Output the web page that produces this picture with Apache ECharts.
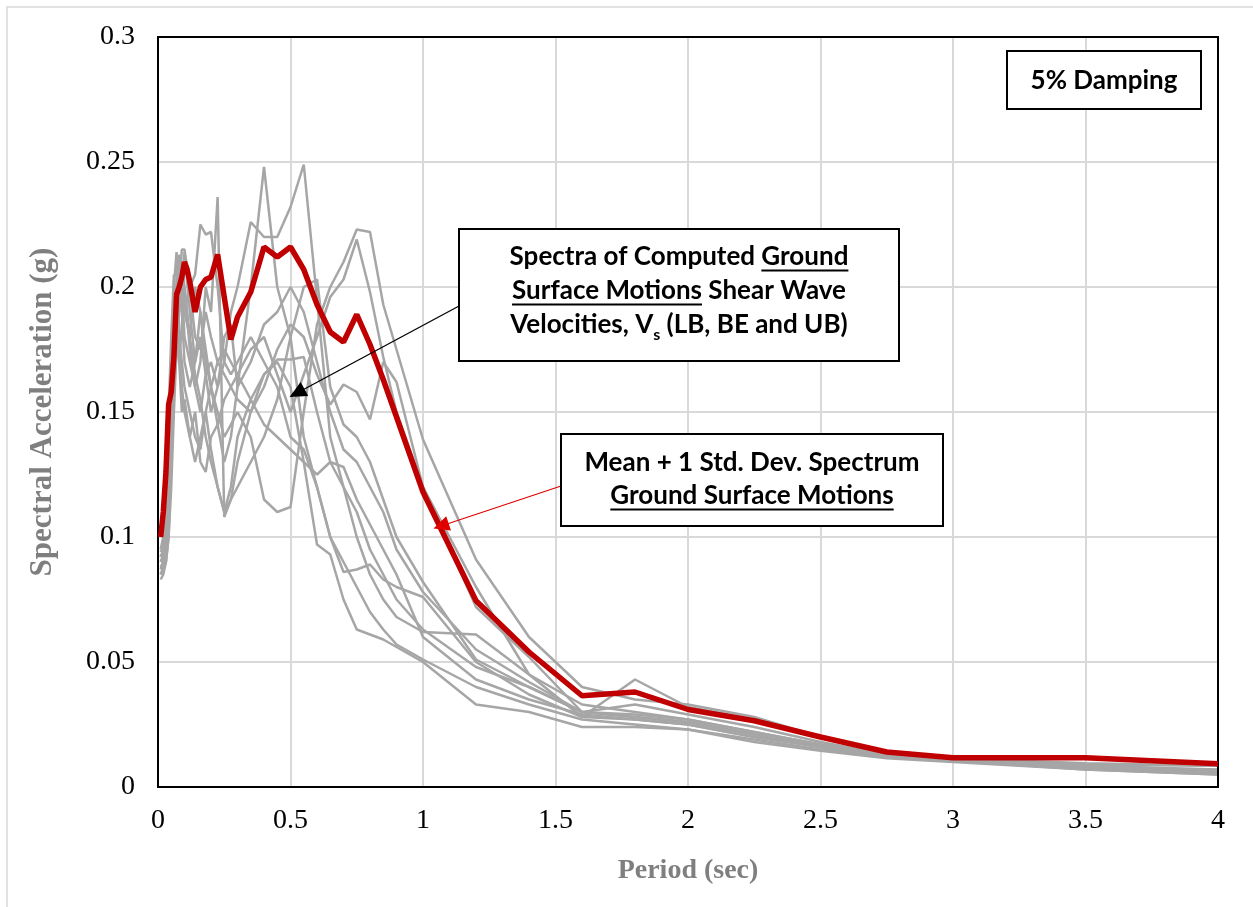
<!DOCTYPE html>
<html>
<head>
<meta charset="utf-8">
<script src="https://cdn.jsdelivr.net/npm/echarts@6/dist/echarts.min.js"></script>
<style>
  html, body { margin: 0; padding: 0; background: #fff; }
  #chart { width: 1253px; height: 907px; }
</style>
</head>
<body>
<div id="chart"></div>
<script>
// mean + 1 std. dev. spectrum (red)
const redPeriods = [0.01, 0.02, 0.03, 0.04, 0.05, 0.06, 0.07, 0.08, 0.09, 0.1, 0.11, 0.12, 0.14, 0.16, 0.18, 0.2, 0.225, 0.275, 0.3,
  0.35, 0.4, 0.45, 0.5, 0.55, 0.6, 0.65, 0.7, 0.75, 0.8, 0.85, 0.9, 1.0, 1.2, 1.4, 1.6, 1.8, 2.0, 2.25, 2.5, 2.75, 3.0, 3.5, 4.0]
const redValues = [0.100, 0.110, 0.126, 0.153, 0.158, 0.172, 0.197, 0.200, 0.204, 0.210, 0.207, 0.202, 0.190, 0.200, 0.203, 0.204, 0.213, 0.179, 0.188,
  0.198, 0.216, 0.212, 0.216, 0.207, 0.193, 0.182, 0.178, 0.189, 0.177, 0.163, 0.148, 0.118, 0.0745, 0.054, 0.0365, 0.038, 0.031, 0.0265, 0.020, 0.014, 0.0117, 0.0117, 0.0093]

// computed ground surface spectra (gray)
const grayPeriods = [0.01, 0.02, 0.03, 0.04, 0.05, 0.06, 0.07, 0.08, 0.09, 0.1, 0.12, 0.14, 0.16, 0.18, 0.2, 0.225, 0.25, 0.275, 0.3,
  0.35, 0.4, 0.45, 0.5, 0.55, 0.6, 0.65, 0.7, 0.75, 0.8, 0.85, 0.9, 1.0, 1.2, 1.4, 1.6, 1.8, 2.0, 2.25, 2.5, 2.75, 3.0, 3.5, 4.0]
const g1 = [0.092, 0.095, 0.110, 0.140, 0.160, 0.190, 0.200, 0.170, 0.185, 0.200, 0.175, 0.160, 0.150, 0.165, 0.170, 0.160, 0.180, 0.185, 0.160,
  0.200, 0.248, 0.200, 0.180, 0.140, 0.120, 0.100, 0.086, 0.087, 0.089, 0.083, 0.080, 0.076, 0.050, 0.037, 0.028, 0.027, 0.025, 0.020, 0.016, 0.013, 0.011, 0.008, 0.006]
const g2 = [0.088, 0.090, 0.100, 0.120, 0.150, 0.175, 0.200, 0.213, 0.190, 0.170, 0.160, 0.170, 0.180, 0.165, 0.150, 0.160, 0.170, 0.190, 0.200,
  0.226, 0.220, 0.220, 0.232, 0.249, 0.195, 0.140, 0.120, 0.100, 0.085, 0.075, 0.068, 0.062, 0.061, 0.045, 0.033, 0.030, 0.027, 0.022, 0.017, 0.013, 0.011, 0.0085, 0.0065]
const g3 = [0.085, 0.088, 0.095, 0.110, 0.140, 0.160, 0.180, 0.200, 0.210, 0.200, 0.180, 0.200, 0.190, 0.170, 0.160, 0.150, 0.140, 0.145, 0.150,
  0.140, 0.115, 0.110, 0.112, 0.150, 0.185, 0.200, 0.210, 0.223, 0.222, 0.193, 0.175, 0.139, 0.091, 0.060, 0.040, 0.035, 0.033, 0.028, 0.020, 0.014, 0.011, 0.009, 0.0085]
const g4 = [0.090, 0.092, 0.105, 0.130, 0.160, 0.200, 0.214, 0.180, 0.170, 0.160, 0.150, 0.140, 0.135, 0.150, 0.160, 0.170, 0.175, 0.170, 0.165,
  0.175, 0.180, 0.165, 0.150, 0.165, 0.180, 0.196, 0.203, 0.219, 0.198, 0.172, 0.150, 0.120, 0.080, 0.045, 0.028, 0.043, 0.032, 0.027, 0.020, 0.014, 0.0115, 0.0095, 0.0085]
const g5 = [0.095, 0.100, 0.120, 0.150, 0.180, 0.205, 0.190, 0.200, 0.215, 0.215, 0.200, 0.180, 0.175, 0.190, 0.180, 0.170, 0.165, 0.160, 0.155,
  0.150, 0.160, 0.175, 0.185, 0.180, 0.165, 0.153, 0.161, 0.158, 0.147, 0.170, 0.162, 0.120, 0.072, 0.052, 0.030, 0.033, 0.029, 0.024, 0.018, 0.013, 0.011, 0.0085, 0.007]
const g6 = [0.085, 0.087, 0.090, 0.100, 0.120, 0.150, 0.175, 0.190, 0.200, 0.180, 0.170, 0.160, 0.170, 0.200, 0.190, 0.236, 0.108, 0.115, 0.130,
  0.150, 0.165, 0.171, 0.171, 0.172, 0.150, 0.130, 0.120, 0.110, 0.095, 0.085, 0.075, 0.063, 0.048, 0.040, 0.030, 0.028, 0.026, 0.021, 0.016, 0.0125, 0.0105, 0.008, 0.006]
const g7 = [0.090, 0.093, 0.100, 0.125, 0.150, 0.170, 0.190, 0.200, 0.195, 0.190, 0.200, 0.205, 0.225, 0.221, 0.222, 0.200, 0.170, 0.165, 0.170,
  0.180, 0.170, 0.160, 0.140, 0.135, 0.120, 0.100, 0.090, 0.080, 0.070, 0.063, 0.057, 0.051, 0.040, 0.033, 0.027, 0.025, 0.023, 0.019, 0.015, 0.012, 0.0105, 0.0075, 0.0055]
const g8 = [0.083, 0.085, 0.090, 0.100, 0.130, 0.160, 0.180, 0.170, 0.150, 0.155, 0.140, 0.150, 0.130, 0.126, 0.140, 0.145, 0.155, 0.160, 0.165,
  0.155, 0.145, 0.140, 0.135, 0.130, 0.125, 0.130, 0.128, 0.115, 0.105, 0.095, 0.085, 0.060, 0.043, 0.035, 0.029, 0.027, 0.025, 0.020, 0.016, 0.012, 0.0105, 0.007, 0.005]
const g9 = [0.087, 0.090, 0.095, 0.115, 0.140, 0.170, 0.190, 0.210, 0.200, 0.190, 0.180, 0.165, 0.155, 0.140, 0.130, 0.120, 0.110, 0.120, 0.140,
  0.155, 0.165, 0.170, 0.160, 0.130, 0.097, 0.093, 0.075, 0.063, 0.061, 0.059, 0.056, 0.050, 0.033, 0.030, 0.024, 0.024, 0.023, 0.018, 0.0145, 0.0115, 0.010, 0.007, 0.005]
const g10 = [0.092, 0.094, 0.110, 0.130, 0.160, 0.190, 0.200, 0.180, 0.160, 0.150, 0.140, 0.130, 0.140, 0.150, 0.135, 0.120, 0.110, 0.115, 0.120,
  0.130, 0.140, 0.155, 0.180, 0.200, 0.203, 0.160, 0.145, 0.140, 0.130, 0.115, 0.100, 0.082, 0.051, 0.040, 0.030, 0.028, 0.026, 0.021, 0.017, 0.013, 0.011, 0.008, 0.006]
const g11 = [0.094, 0.096, 0.115, 0.140, 0.170, 0.185, 0.200, 0.190, 0.200, 0.214, 0.190, 0.170, 0.190, 0.175, 0.160, 0.145, 0.130, 0.140, 0.160,
  0.170, 0.185, 0.190, 0.200, 0.190, 0.170, 0.150, 0.135, 0.130, 0.120, 0.110, 0.095, 0.078, 0.055, 0.042, 0.030, 0.029, 0.027, 0.022, 0.017, 0.013, 0.011, 0.0085, 0.0065]
const grayCurves = [g1, g2, g3, g4, g5, g6, g7, g8, g9, g10, g11]

// arrow ends in data units [period, Sa]
const grayArrow = [[1.136, 0.1924], [0.5245, 0.1576]]
const redArrow = [[1.521, 0.1204], [1.068, 0.1044]]

const chart = echarts.init(document.getElementById('chart'))

const measureCtx = document.createElement('canvas').getContext('2d')
function textWidth(text, font) {
  measureCtx.font = font
  return measureCtx.measureText(text).width
}

// one centred line of box text, with underlined / subscript pieces
function textLine(parts, cx, cy, size) {
  const font = 'bold ' + size + 'px Lato'
  const subFont = 'bold ' + Math.round(size * 0.62) + 'px Lato'
  const widths = parts.map(p => textWidth(p.t, p.sub ? subFont : font))
  const total = widths.reduce((a, b) => a + b, 0)
  let x = cx - total / 2
  const els = []
  parts.forEach((p, i) => {
    els.push({
      type: 'text',
      x: x,
      y: cy + (p.sub ? size * 0.38 : 0),
      z: 100,
      style: {
        text: p.t,
        font: p.sub ? subFont : font,
        fill: '#000',
        align: 'left',
        verticalAlign: 'middle'
      }
    })
    if (p.u) {
      els.push({
        type: 'line',
        z: 100,
        shape: { x1: x, y1: cy + size * 0.52, x2: x + widths[i], y2: cy + size * 0.52 },
        style: { stroke: '#000', lineWidth: 1.8 }
      })
    }
    x += widths[i]
  })
  return els
}

function box(x, y, w, h) {
  return {
    type: 'rect',
    z: 99,
    shape: { x: x, y: y, width: w, height: h },
    style: { fill: '#fff', stroke: '#000', lineWidth: 2 }
  }
}

const graphics = [
  {
    type: 'rect',
    z: -1,
    shape: { x: 7, y: 7, width: 1250, height: 905 },
    style: { fill: 'none', stroke: '#d9d9d9', lineWidth: 1.5 }
  },
  // plot frame
  {
    type: 'rect',
    z: 3,
    shape: { x: 158, y: 37, width: 1060, height: 750 },
    style: { fill: 'none', stroke: '#000', lineWidth: 2 }
  },
  box(1007, 51, 194, 58),
  box(459, 229, 440, 132),
  box(561, 434, 382, 92)
].concat(
  textLine([{ t: '5% Damping' }], 1104, 81, 26),
  textLine([{ t: 'Spectra of Computed ' }, { t: 'Ground', u: true }], 679, 257, 26),
  textLine([{ t: 'Surface Motions', u: true }, { t: ' Shear Wave' }], 679, 291, 26),
  textLine([{ t: 'Velocities, V' }, { t: 's', sub: true }, { t: ' (LB, BE and UB)' }], 679, 325, 26),
  textLine([{ t: 'Mean + 1 Std. Dev. Spectrum' }], 752, 463, 26),
  textLine([{ t: 'Ground Surface Motions', u: true }], 752, 496, 26)
)

const series = grayCurves.map((vals, k) => {
  const s = {
    type: 'line',
    data: grayPeriods.map((t, i) => [t, vals[i]]),
    showSymbol: false,
    lineStyle: { color: '#a6a6a6', width: 2.5 },
    z: 2
  }
  if (k === 0) {
    s.markLine = {
      silent: true,
      symbol: ['none', 'triangle'],
      symbolSize: [16, 17],
      label: { show: false },
      lineStyle: { color: '#000', width: 1.3, type: 'solid' },
      data: [[{ coord: grayArrow[0] }, { coord: grayArrow[1] }]],
      z: 50
    }
  }
  return s
})
series.push({
  type: 'line',
  data: redPeriods.map((t, i) => [t, redValues[i]]),
  showSymbol: false,
  lineStyle: { color: '#c00000', width: 5.5 },
  z: 5,
  markLine: {
    silent: true,
    symbol: ['none', 'triangle'],
    symbolSize: [15, 16],
    label: { show: false },
    lineStyle: { color: '#e00000', width: 1.2, type: 'solid' },
    data: [[{ coord: redArrow[0] }, { coord: redArrow[1] }]],
    z: 50
  }
})

const option = {
  animation: false,
  backgroundColor: '#fff',
  grid: {
    left: 158,
    right: 35,
    top: 37,
    bottom: 120
  },
  xAxis: {
    type: 'value',
    min: 0,
    max: 4,
    interval: 0.5,
    name: 'Period (sec)',
    nameLocation: 'middle',
    nameGap: 70,
    nameTextStyle: { fontFamily: 'Liberation Serif', fontWeight: 'bold', fontSize: 28, color: '#7f7f7f' },
    axisLine: { show: true, lineStyle: { color: '#000', width: 2 } },
    axisTick: { show: false },
    axisLabel: { fontFamily: 'Liberation Serif', fontSize: 28, color: '#000', margin: 20 },
    splitLine: { show: true, lineStyle: { color: '#d9d9d9', width: 2 } }
  },
  yAxis: {
    type: 'value',
    min: 0,
    max: 0.3,
    interval: 0.05,
    name: 'Spectral Acceleration (g)',
    nameLocation: 'middle',
    nameGap: 100,
    nameTextStyle: { fontFamily: 'Liberation Serif', fontWeight: 'bold', fontSize: 31, color: '#7f7f7f' },
    axisLine: { show: true, lineStyle: { color: '#000', width: 2 } },
    axisTick: { show: false },
    axisLabel: { fontFamily: 'Liberation Serif', fontSize: 28, color: '#000', margin: 23 },
    splitLine: { show: true, lineStyle: { color: '#d9d9d9', width: 2 } }
  },
  series: series,
  graphic: graphics
}

chart.setOption(option)
</script>
</body>
</html>
